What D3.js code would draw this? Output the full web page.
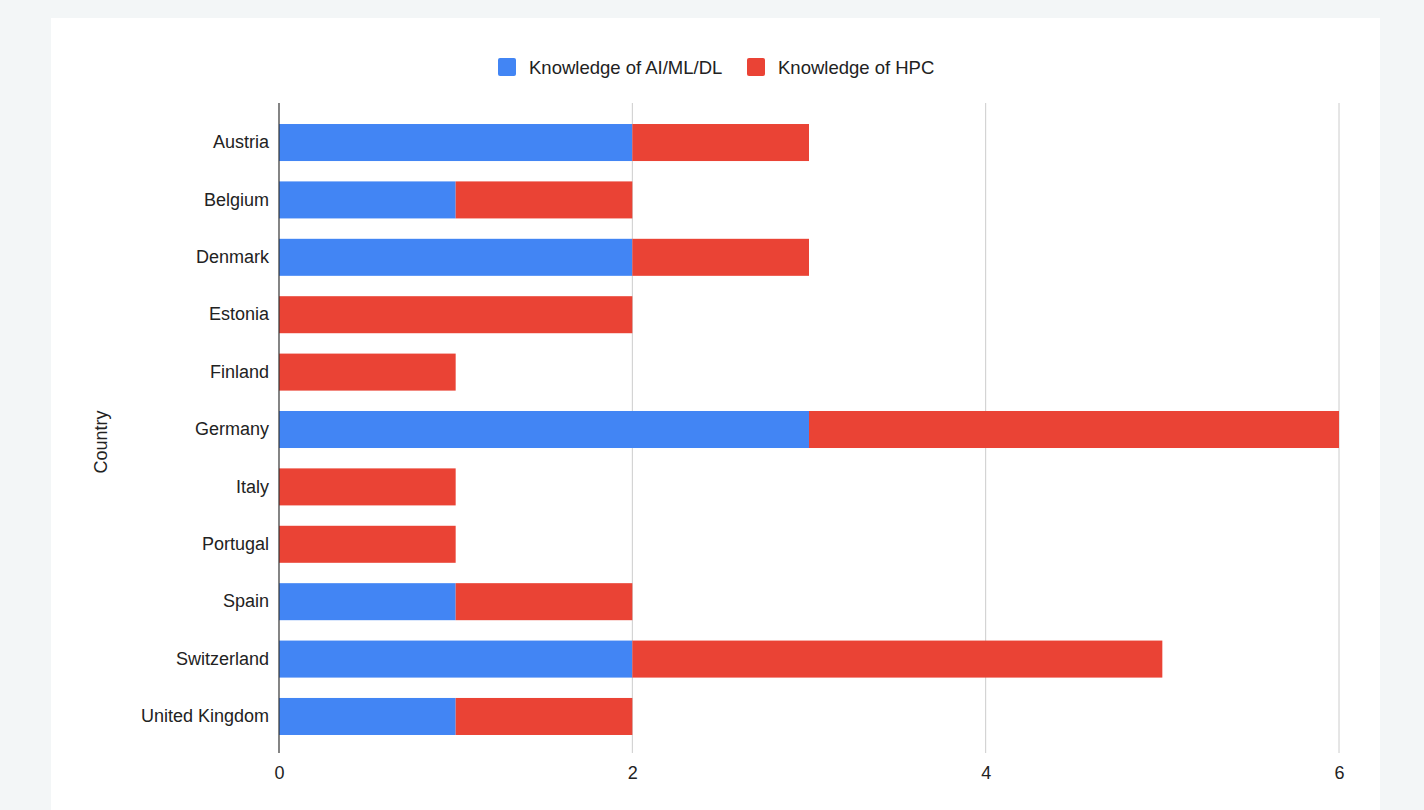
<!DOCTYPE html>
<html>
<head>
<meta charset="utf-8">
<script src="https://cdn.jsdelivr.net/npm/d3@7"></script>
<style>
    body { margin: 0; background: #f3f6f7; font-family: "Liberation Sans", Arial, sans-serif; }
    .panel { fill: #ffffff; }
    .tick text { font-size: 18px; fill: #222; font-family: "Liberation Sans", Arial, sans-serif; }
    .legendTxt { font-size: 18.5px; fill: #222; }
    .ylabel { font-size: 18px; fill: #222; }
</style>
</head>
<body>
<div id="barChartGrf"></div>
<script>
// chart data
const countries = ["Austria", "Belgium", "Denmark", "Estonia", "Finland", "Germany",
    "Italy", "Portugal", "Spain", "Switzerland", "United Kingdom"];
const aiValues = [2, 1, 2, 0, 0, 3, 0, 0, 1, 2, 1];
const hpcValues = [1, 1, 1, 2, 1, 3, 1, 1, 1, 3, 1];
const seriesNames = ["Knowledge of AI/ML/DL", "Knowledge of HPC"];
const seriesColors = ["#4285f4", "#ea4335"];
const xTicks = [0, 2, 4, 6];

const W = 1424, H = 810;
const plotLeft = 279, plotRight = 1339, plotTop = 103, plotBottom = 753;

var svg = d3.select("#barChartGrf").append("svg")
    .attr("width", W)
    .attr("height", H)
    .style("display", "block");

// white card
svg.append("rect")
    .attr("class", "panel")
    .attr("x", 51).attr("y", 18)
    .attr("width", 1329).attr("height", H - 18);

var x = d3.scaleLinear().domain([0, 6]).range([plotLeft, plotRight]);
var y = d3.scaleBand().domain(countries).range([plotTop + 1.5, plotBottom + 1.5]).paddingInner(0.355).paddingOuter(0.34);

// grid
svg.append("g")
    .selectAll("line")
    .data(xTicks.filter(d => d > 0))
    .enter().append("line")
    .attr("x1", d => x(d)).attr("x2", d => x(d))
    .attr("y1", plotTop).attr("y2", plotBottom)
    .attr("stroke", "#cccccc")
    .attr("stroke-width", 1);

// stacked data
var rows = countries.map((c, i) => ({ country: c, ai: aiValues[i], hpc: hpcValues[i] }));
var stacked = d3.stack().keys(["ai", "hpc"])(rows);

stacked.forEach((layer, li) => {
    svg.append("g")
        .attr("fill", seriesColors[li])
        .selectAll("rect")
        .data(layer.filter(d => d[1] > d[0]))
        .enter().append("rect")
        .attr("x", d => x(d[0]))
        .attr("y", d => y(d.data.country))
        .attr("width", d => x(d[1]) - x(d[0]))
        .attr("height", y.bandwidth());
});

// zero axis line
svg.append("line")
    .attr("x1", x(0)).attr("x2", x(0))
    .attr("y1", plotTop).attr("y2", plotBottom)
    .attr("stroke", "#333")
    .attr("stroke-width", 1.2);

// x axis labels
var xAxis = svg.append("g")
    .attr("transform", "translate(0," + (plotBottom + 10) + ")")
    .call(d3.axisBottom(x).tickValues(xTicks).tickSize(0).tickFormat(d3.format("d")));
xAxis.select(".domain").remove();
xAxis.selectAll("text").attr("dy", "0.71em");

// y axis labels
var yAxis = svg.append("g")
    .attr("transform", "translate(" + (plotLeft - 10) + ",0)")
    .call(d3.axisLeft(y).tickSize(0).tickPadding(0));
yAxis.select(".domain").remove();

// y label
svg.append("text")
    .attr("class", "ylabel")
    .attr("transform", "translate(107," + ((plotTop + plotBottom) / 2 + 14) + ") rotate(-90)")
    .attr("text-anchor", "middle")
    .text("Country");

// legend
var legendX = [498, 747];
var legend = svg.append("g");
seriesNames.forEach((name, i) => {
    legend.append("rect")
        .attr("x", legendX[i]).attr("y", 58)
        .attr("width", 18).attr("height", 18)
        .attr("rx", 2)
        .attr("fill", seriesColors[i]);
    legend.append("text")
        .attr("class", "legendTxt")
        .attr("x", legendX[i] + 31).attr("y", 74)
        .text(name);
});
</script>
</body>
</html>
